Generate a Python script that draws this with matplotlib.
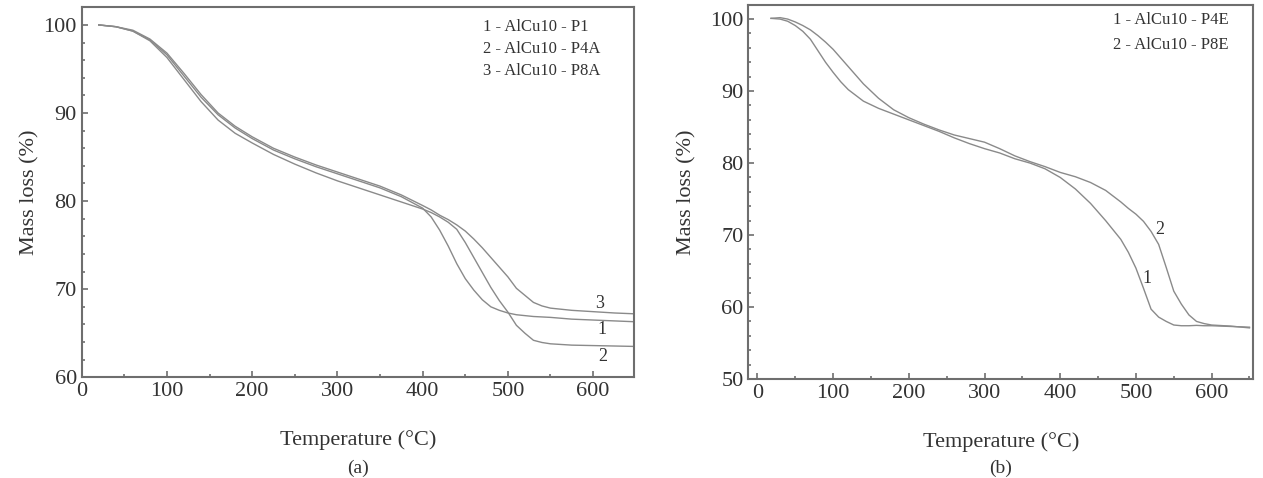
import matplotlib
matplotlib.use("Agg")
import matplotlib.pyplot as plt
from matplotlib.ticker import MultipleLocator

plt.rcParams["font.family"] = ["Liberation Serif", "DejaVu Serif"]

# (a) TGA curves
temp_a = [20, 40, 60, 80, 100, 120, 140, 160, 180, 200, 225, 250, 275, 300, 325, 350, 375,
          400, 410, 420, 430, 440, 450, 460, 470, 480, 490, 500, 510, 520, 530, 540, 550,
          575, 600, 625, 650]
p1 = [100, 99.8, 99.3, 98.3, 96.6, 94.2, 91.8, 89.8, 88.3, 87.1, 85.8, 84.8, 83.9, 83.1, 82.3,
      81.5, 80.5, 79.2, 78.2, 76.7, 74.9, 72.9, 71.2, 69.9, 68.8, 68.0, 67.6, 67.3, 67.1, 67.0,
      66.9, 66.85, 66.8, 66.6, 66.5, 66.4, 66.3]
p4a = [100, 99.8, 99.3, 98.2, 96.3, 93.8, 91.3, 89.2, 87.7, 86.6, 85.3, 84.2, 83.2, 82.3, 81.5,
       80.7, 79.9, 79.1, 78.7, 78.2, 77.6, 76.8, 75.3, 73.6, 71.9, 70.2, 68.7, 67.4, 65.9, 65.0,
       64.2, 63.95, 63.8, 63.65, 63.6, 63.55, 63.5]
p8a = [100, 99.8, 99.4, 98.4, 96.8, 94.5, 92.1, 90.0, 88.5, 87.3, 86.0, 85.0, 84.1, 83.3, 82.5,
       81.7, 80.7, 79.5, 79.0, 78.4, 77.9, 77.3, 76.6, 75.7, 74.7, 73.6, 72.5, 71.4, 70.1, 69.3,
       68.5, 68.1, 67.85, 67.6, 67.45, 67.3, 67.2]
names_a = ["1 - AlCu10 - P1", "2 - AlCu10 - P4A", "3 - AlCu10 - P8A"]

# (b) TGA curves
temp_b = [18, 30, 40, 50, 60, 70, 80, 90, 100, 110, 120, 140, 160, 180, 200, 220, 240, 260,
          280, 300, 320, 340, 360, 380, 400, 420, 440, 460, 480, 490, 500, 510, 520, 530, 540,
          550, 560, 570, 580, 590, 600, 625, 650]
p4e = [100.1, 100.0, 99.7, 99.1, 98.3, 97.2, 95.6, 94.0, 92.6, 91.3, 90.2, 88.6, 87.6, 86.8,
       86.0, 85.2, 84.4, 83.5, 82.7, 82.0, 81.4, 80.6, 80.0, 79.2, 78.0, 76.4, 74.4, 72.0, 69.4,
       67.6, 65.4, 62.6, 59.7, 58.6, 58.0, 57.5, 57.4, 57.4, 57.45, 57.4, 57.4, 57.3, 57.2]
p8e = [100.1, 100.2, 100.0, 99.6, 99.1, 98.5, 97.7, 96.8, 95.8, 94.6, 93.4, 91.0, 89.0, 87.4,
       86.3, 85.4, 84.6, 83.9, 83.4, 82.9, 82.0, 81.0, 80.2, 79.5, 78.7, 78.1, 77.3, 76.2, 74.6,
       73.7, 72.9, 71.9, 70.5, 68.7, 65.5, 62.2, 60.4, 58.9, 58.0, 57.7, 57.5, 57.35, 57.1]
names_b = ["1 - AlCu10 - P4E", "2 - AlCu10 - P8E"]

line_col = "#8a8a8a"
axis_col = "#6e6e6e"
text_col = "#333333"

fig = plt.figure(figsize=(12.63, 4.78), dpi=100)
ax1 = fig.add_axes([0.0647, 0.2107, 0.4373, 0.774])
ax2 = fig.add_axes([0.5925, 0.2071, 0.3998, 0.7831])


def style(ax, ypad):
    ax.yaxis.set_major_locator(MultipleLocator(10))
    ax.yaxis.set_minor_locator(MultipleLocator(2))
    ax.xaxis.set_major_locator(MultipleLocator(100))
    ax.xaxis.set_minor_locator(MultipleLocator(50))
    ax.tick_params(which="both", direction="in", colors=axis_col, labelcolor=text_col,
                   labelsize=16, width=1.2)
    ax.tick_params(which="major", length=4)
    ax.tick_params(which="minor", length=2.5)
    for s in ax.spines.values():
        s.set_color(axis_col)
        s.set_linewidth(1.5)
    ax.set_xlabel("Temperature (°C)", fontsize=16, color=text_col, labelpad=21)
    ax.set_ylabel("Mass loss (%)", fontsize=16, color=text_col, labelpad=ypad)


for y in (p1, p4a, p8a):
    ax1.plot(temp_a, y, color=line_col, lw=1.0)
ax1.set_xlim(0, 648)
ax1.set_ylim(60, 102)
style(ax1, 3)
for i, n in enumerate(names_a):
    ax1.text(0.727, 0.947 - i * 0.0595, n, transform=ax1.transAxes, fontsize=12,
             color=text_col, va="center")
ax1.text(608, 68.4, "3", fontsize=13, color=text_col, ha="center", va="center")
ax1.text(610, 65.4, "1", fontsize=13, color=text_col, ha="center", va="center")
ax1.text(611, 62.4, "2", fontsize=13, color=text_col, ha="center", va="center")
ax1.text(0.5, -0.245, "(a)", transform=ax1.transAxes, fontsize=14, color=text_col,
         ha="center", va="center")

for y in (p4e, p8e):
    ax2.plot(temp_b, y, color=line_col, lw=1.0)
ax2.set_xlim(-12, 655)
ax2.set_ylim(50, 102)
style(ax2, 10)
for i, n in enumerate(names_b):
    ax2.text(0.722, 0.96 - i * 0.068, n, transform=ax2.transAxes, fontsize=12,
             color=text_col, va="center")
ax2.text(531, 70.7, "2", fontsize=13, color=text_col, ha="center", va="center")
ax2.text(514, 64.0, "1", fontsize=13, color=text_col, ha="center", va="center")
ax2.text(0.5, -0.24, "(b)", transform=ax2.transAxes, fontsize=14, color=text_col,
         ha="center", va="center")

fig.savefig("out.png", dpi=100)
